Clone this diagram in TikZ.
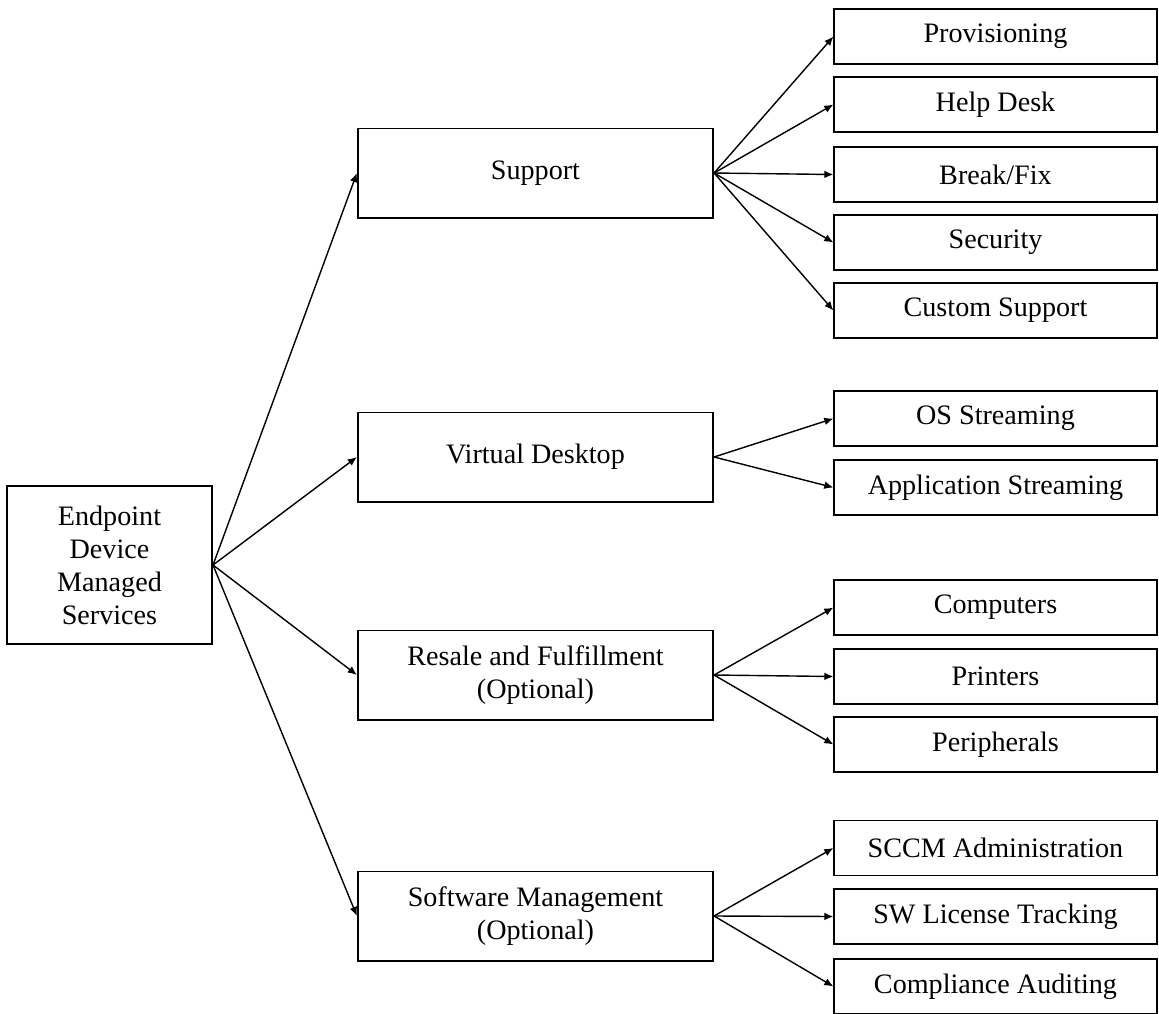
\documentclass[tikz,border=0pt]{standalone}
\usepackage{fontspec}
\setmainfont{Liberation Serif}
\usetikzlibrary{positioning, arrows.meta}

\begin{document}
\begin{tikzpicture}[x=0.01cm, y=-0.01cm, line width=0.55pt, >={Latex[length=2.6pt,width=2.2pt]},
    font=\fontsize{8}{9.4}\selectfont,
    rootbox/.style={draw, rectangle, minimum width=2.05cm, minimum height=1.57cm, align=center, inner sep=0pt},
    midbox/.style={draw, rectangle, minimum width=3.55cm, minimum height=0.89cm, align=center, inner sep=0pt},
    leafbox/.style={draw, rectangle, minimum width=3.22cm, minimum height=0.55cm, align=center, inner sep=0pt},
    link/.style={->, line width=0.4pt}]
        \useasboundingbox (0,0) rectangle (1159,1014);

        \node (edms) [rootbox] at (109.5, 565) {Endpoint\\Device\\Managed\\Services};

        \node (support) [midbox] at (535.5, 173) {Support};
        \node (vdesk) [midbox] at (535.5, 457) {Virtual Desktop};
        \node (resale) [midbox] at (535.5, 675) {Resale and Fulfillment\\(Optional)};
        \node (swmgmt) [midbox] at (535.5, 916) {Software Management\\(Optional)};

        \node (prov) [leafbox] at (995.5, 36.5) {Provisioning};
        \node (helpdesk) [leafbox] at (995.5, 104.5) {Help Desk};
        \node (breakfix) [leafbox] at (995.5, 174.5) {Break/Fix};
        \node (security) [leafbox] at (995.5, 242.5) {Security};
        \node (custsup) [leafbox] at (995.5, 310.5) {Custom Support};

        \node (osstream) [leafbox] at (995.5, 418.5) {OS Streaming};
        \node (appstream) [leafbox] at (995.5, 487.5) {Application Streaming};

        \node (computers) [leafbox] at (995.5, 607.5) {Computers};
        \node (printers) [leafbox] at (995.5, 676.5) {Printers};
        \node (periph) [leafbox] at (995.5, 744.5) {Peripherals};

        \node (sccm) [leafbox] at (995.5, 848) {SCCM Administration};
        \node (swlic) [leafbox] at (995.5, 916.5) {SW License Tracking};
        \node (audit) [leafbox] at (995.5, 986.5) {Compliance Auditing};

        \draw[link] (edms.east) -- (support.west);
        \draw[link] (edms.east) -- (vdesk.west);
        \draw[link] (edms.east) -- (resale.west);
        \draw[link] (edms.east) -- (swmgmt.west);

        \draw[link] (support.east) -- (prov.west);
        \draw[link] (support.east) -- (helpdesk.west);
        \draw[link] (support.east) -- (breakfix.west);
        \draw[link] (support.east) -- (security.west);
        \draw[link] (support.east) -- (custsup.west);

        \draw[link] (vdesk.east) -- (osstream.west);
        \draw[link] (vdesk.east) -- (appstream.west);

        \draw[link] (resale.east) -- (computers.west);
        \draw[link] (resale.east) -- (printers.west);
        \draw[link] (resale.east) -- (periph.west);

        \draw[link] (swmgmt.east) -- (sccm.west);
        \draw[link] (swmgmt.east) -- (swlic.west);
        \draw[link] (swmgmt.east) -- (audit.west);
    \end{tikzpicture}
\end{document}
